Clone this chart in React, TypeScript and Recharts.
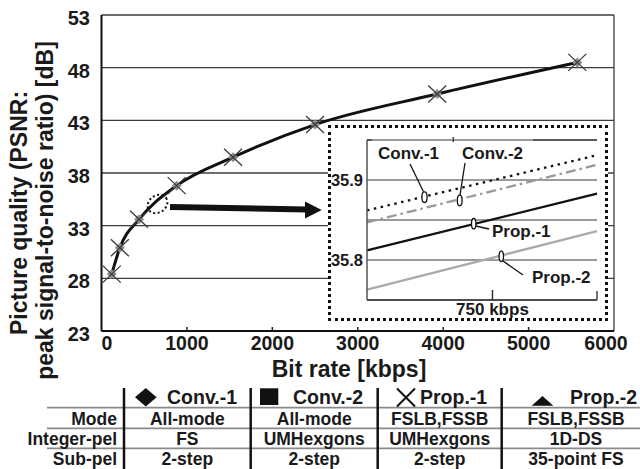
import React from "react";
import { LineChart, Line, XAxis, YAxis, CartesianGrid, ReferenceLine } from "recharts";

const FONT = "'Liberation Sans', Arial, Helvetica, sans-serif";
const INK = "#1a1a1a";

// main R-D curve (all four methods overlap at this scale)
const bitRates = [120, 215, 440, 880, 1540, 2500, 3930, 5570];
const psnr = [28.4, 30.9, 33.6, 36.8, 39.5, 42.6, 45.5, 48.5];
const rateTicks = [0, 1000, 2000, 3000, 4000, 5000, 6000];
const psnrTicks = [23, 28, 33, 38, 43, 48, 53];

// zoomed view around 750 kbps
const zoomRates = [690, 800];
const zoomConv1 = [35.862, 35.931];
const zoomConv2 = [35.847, 35.919];
const zoomProp1 = [35.812, 35.883];
const zoomProp2 = [35.763, 35.836];
const zoomTicks = [35.8, 35.85, 35.9];
const zoomRateTicks = [750];

// comparison table
const methods = ["Conv.-1", "Conv.-2", "Prop.-1", "Prop.-2"];
const rowLabels = ["Mode", "Integer-pel", "Sub-pel"];
const modeRow = ["All-mode", "All-mode", "FSLB,FSSB", "FSLB,FSSB"];
const integerRow = ["FS", "UMHexgons", "UMHexgons", "1D-DS"];
const subRow = ["2-step", "2-step", "2-step", "35-point FS"];

const mainData = bitRates.map((r, i) => ({ rate: r, psnr: psnr[i] }));
const zoomData = zoomRates.map((r, i) => ({
  rate: r,
  c1: zoomConv1[i],
  c2: zoomConv2[i],
  p1: zoomProp1[i],
  p2: zoomProp2[i],
}));

function MarkerDot(props: any) {
  const { cx, cy, index } = props;
  if (cx == null || cy == null) return <g key={`m-${index}`} />;
  return (
    <g key={`m-${index}`}>
      <path d={`M${cx},${cy - 5} L${cx + 5},${cy} L${cx},${cy + 5} L${cx - 5},${cy} Z`} fill="#8c8c8c" />
      <path
        d={`M${cx - 9},${cy - 8.5} L${cx + 9},${cy + 8.5} M${cx - 9},${cy + 8.5} L${cx + 9},${cy - 8.5}`}
        stroke="#3a3a3a"
        strokeWidth={1.3}
        fill="none"
      />
    </g>
  );
}

function RateTick(props: any) {
  const { x, y, payload } = props;
  const v = payload.value;
  const first = v === rateTicks[0];
  const last = v === rateTicks[rateTicks.length - 1];
  return (
    <g>
      {!first && !last && <line x1={x} x2={x} y1={y} y2={y - 4} stroke="#222" strokeWidth={1.5} />}
      <text
        x={last ? x - 8 : x}
        y={y + 19}
        textAnchor={first ? "start" : "middle"}
        fontSize={19.5}
        fontWeight="bold"
        fontFamily={FONT}
        fill={INK}
      >
        {v}
      </text>
    </g>
  );
}

function PsnrTick(props: any) {
  const { x, y, payload } = props;
  return (
    <text x={x - 11.5} y={y + 10} textAnchor="end" fontSize={20} fontWeight="bold" fontFamily={FONT} fill={INK}>
      {payload.value}
    </text>
  );
}

function ZoomRateTick(props: any) {
  const { x, y, payload } = props;
  return (
    <g>
      <line x1={x} x2={x} y1={y} y2={y - 10} stroke="#333" strokeWidth={1.5} />
      <text x={x} y={y + 15} textAnchor="middle" fontSize={17} fontWeight="bold" fontFamily={FONT} fill={INK}>
        {payload.value} kbps
      </text>
    </g>
  );
}

function ZoomPsnrTick(props: any) {
  const { x, y, payload } = props;
  if (payload.value !== 35.8 && payload.value !== 35.9) return <g />;
  return (
    <text x={x - 4} y={y + 6} textAnchor="end" fontSize={16.5} fontWeight="bold" fontFamily={FONT} fill={INK}>
      {payload.value.toFixed(1)}
    </text>
  );
}

function MainChart() {
  return (
    <LineChart width={640} height={469} data={mainData} margin={{ top: 15, right: 26, left: 0, bottom: 108 }}>
      <CartesianGrid vertical={false} stroke="#3c3c3c" strokeWidth={1.3} />
      <XAxis
        dataKey="rate"
        type="number"
        domain={[0, 6000]}
        ticks={rateTicks}
        interval={0}
        height={30}
        tickSize={0}
        tickMargin={0}
        tickLine={false}
        axisLine={{ stroke: "#111", strokeWidth: 2 }}
        tick={(p: any) => <RateTick {...p} />}
      />
      <YAxis
        type="number"
        domain={[23, 53]}
        ticks={psnrTicks}
        interval={0}
        width={101.5}
        tickSize={0}
        tickMargin={0}
        tickLine={false}
        axisLine={{ stroke: "#111", strokeWidth: 2 }}
        tick={(p: any) => <PsnrTick {...p} />}
      />
      <ReferenceLine x={6000} stroke="#3c3c3c" strokeWidth={1.3} />
      <Line
        dataKey="psnr"
        type="monotone"
        stroke="#111"
        strokeWidth={3}
        dot={MarkerDot}
        isAnimationActive={false}
      />
    </LineChart>
  );
}

function ZoomChart() {
  return (
    <LineChart width={280} height={196} data={zoomData} margin={{ top: 15, right: 11, left: 0, bottom: 0 }}>
      <CartesianGrid vertical={false} stroke="#7a7a7a" strokeWidth={1.5} />
      <XAxis
        dataKey="rate"
        type="number"
        domain={[690, 800]}
        ticks={zoomRateTicks}
        height={21}
        tickSize={0}
        tickMargin={0}
        tickLine={false}
        axisLine={{ stroke: "#333", strokeWidth: 1.5 }}
        tick={(p: any) => <ZoomRateTick {...p} />}
      />
      <YAxis
        type="number"
        domain={[35.75, 35.95]}
        ticks={zoomTicks}
        interval={0}
        width={39}
        tickSize={0}
        tickMargin={0}
        tickLine={false}
        axisLine={{ stroke: "#555", strokeWidth: 1.5 }}
        tick={(p: any) => <ZoomPsnrTick {...p} />}
      />
      <Line dataKey="c1" stroke="#111" strokeWidth={2.3} strokeDasharray="2.5 4.5" dot={false} isAnimationActive={false} />
      <Line dataKey="c2" stroke="#999" strokeWidth={2.3} strokeDasharray="10 4 2.5 4" dot={false} isAnimationActive={false} />
      <Line dataKey="p1" stroke="#111" strokeWidth={2.3} dot={false} isAnimationActive={false} />
      <Line dataKey="p2" stroke="#aaa" strokeWidth={2.3} dot={false} isAnimationActive={false} />
    </LineChart>
  );
}

function Annotations() {
  const colEdges = [124, 250.7, 377.7, 501.7, 650];
  const centers = colEdges.slice(0, 4).map((e, i) => (e + colEdges[i + 1]) / 2);
  const headTextX = [167, 293, 420, 570];
  const rows = [modeRow, integerRow, subRow];
  const rowBase = [425, 445, 465];
  const txt = { fontFamily: FONT, fontWeight: "bold" as const, fill: INK };
  return (
    <svg width={640} height={469} style={{ position: "absolute", left: 0, top: 0 }}>
      {/* axis titles */}
      <text x={27} y={213} transform="rotate(-90 27 213)" textAnchor="middle" fontSize={23} {...txt}>
        Picture quality (PSNR:
      </text>
      <text x={53} y={210.5} transform="rotate(-90 53 210.5)" textAnchor="middle" fontSize={23} {...txt}>
        peak signal-to-noise ratio) [dB]
      </text>
      <text x={349} y={377} textAnchor="middle" fontSize={23} {...txt}>
        Bit rate [kbps]
      </text>

      {/* zoom marker and arrow */}
      <ellipse cx={157.5} cy={204} rx={10.5} ry={8.5} transform="rotate(-35 157.5 204)" fill="none" stroke="#111" strokeWidth={2} strokeDasharray="2 2.5" />
      <line x1={170} y1={207} x2={306} y2={209.5} stroke="#111" strokeWidth={6} />
      <polygon points="305,201.5 321.7,210 305,218.5" fill="#111" />

      {/* partial frame of the zoom plot */}
      <g stroke="#444" strokeWidth={1.5}>
        <line x1={367} y1={140} x2={372} y2={140} />
        <line x1={533} y1={140} x2={597} y2={140} />
        <line x1={453.3} y1={137} x2={453.3} y2={142} />
        <line x1={597} y1={291} x2={597} y2={300} />
      </g>

      {/* series callouts in the zoom plot */}
      <g stroke="#111" strokeWidth={1.3} fill="none">
        <line x1={410} y1={164} x2={423.5} y2={191.7} />
        <line x1={465} y1={163} x2={460} y2={195} />
        <line x1={475.7} y1={226} x2={489} y2={229} />
        <line x1={503} y1={261} x2={523} y2={275} />
        <ellipse cx={424.5} cy={197.2} rx={2.6} ry={5.3} fill="#fff" />
        <ellipse cx={459.7} cy={200.5} rx={2.4} ry={5.3} fill="#fff" />
        <ellipse cx={473.7} cy={223.7} rx={2.2} ry={5.2} fill="#fff" />
        <ellipse cx={501.3} cy={256.3} rx={2.2} ry={5.2} fill="#fff" />
      </g>
      <text x={378} y={159} fontSize={17} {...txt}>{methods[0]}</text>
      <text x={462} y={159} fontSize={17} {...txt}>{methods[1]}</text>
      <text x={492} y={237} fontSize={17} {...txt}>{methods[2]}</text>
      <text x={532} y={283} fontSize={17} {...txt}>{methods[3]}</text>

      {/* table */}
      <g stroke="#8a8a8a" strokeWidth={1.8}>
        <line x1={47} x2={640} y1={407.7} y2={407.7} />
        <line x1={47} x2={640} y1={428.3} y2={428.3} />
        <line x1={47} x2={640} y1={448.3} y2={448.3} />
      </g>
      <g stroke="#111" strokeWidth={2.5}>
        {colEdges.slice(0, 4).map((e) => (
          <line key={e} x1={e} x2={e} y1={388} y2={469} />
        ))}
      </g>
      <polygon points="135,397.3 145.8,388 156.6,397.3 145.8,406.6" fill="#111" />
      <rect x={260} y={388.3} width={18.3} height={16.7} fill="#111" />
      <path d="M397,388.5 L415,406.5 M397,406.5 L415,388.5" stroke="#111" strokeWidth={2} />
      <polygon points="531.7,405.7 542.5,396 553.3,405.7" fill="#111" />
      {methods.map((m, i) => (
        <text key={m} x={headTextX[i]} y={404} fontSize={19.5} {...txt}>{m}</text>
      ))}
      {rowLabels.map((l, r) => (
        <text key={l} x={117} y={rowBase[r]} textAnchor="end" fontSize={17.5} {...txt}>{l}</text>
      ))}
      {rows.map((row, r) =>
        row.map((c, i) => (
          <text key={`${r}-${i}`} x={i === 3 ? 576 : centers[i]} y={rowBase[r]} textAnchor="middle" fontSize={17.5} {...txt}>
            {c}
          </text>
        ))
      )}
    </svg>
  );
}

export default function App() {
  return (
    <div style={{ position: "absolute", left: 0, top: 0, width: 640, height: 469, background: "#fff", overflow: "hidden" }}>
      <div style={{ position: "absolute", left: 0, top: 0 }}>
        <MainChart />
      </div>
      <div
        style={{
          position: "absolute",
          left: 328,
          top: 125,
          width: 280,
          height: 196,
          boxSizing: "border-box",
          border: "3px dotted #111",
          background: "#fff",
        }}
      />
      <div style={{ position: "absolute", left: 328, top: 125 }}>
        <ZoomChart />
      </div>
      <Annotations />
    </div>
  );
}
